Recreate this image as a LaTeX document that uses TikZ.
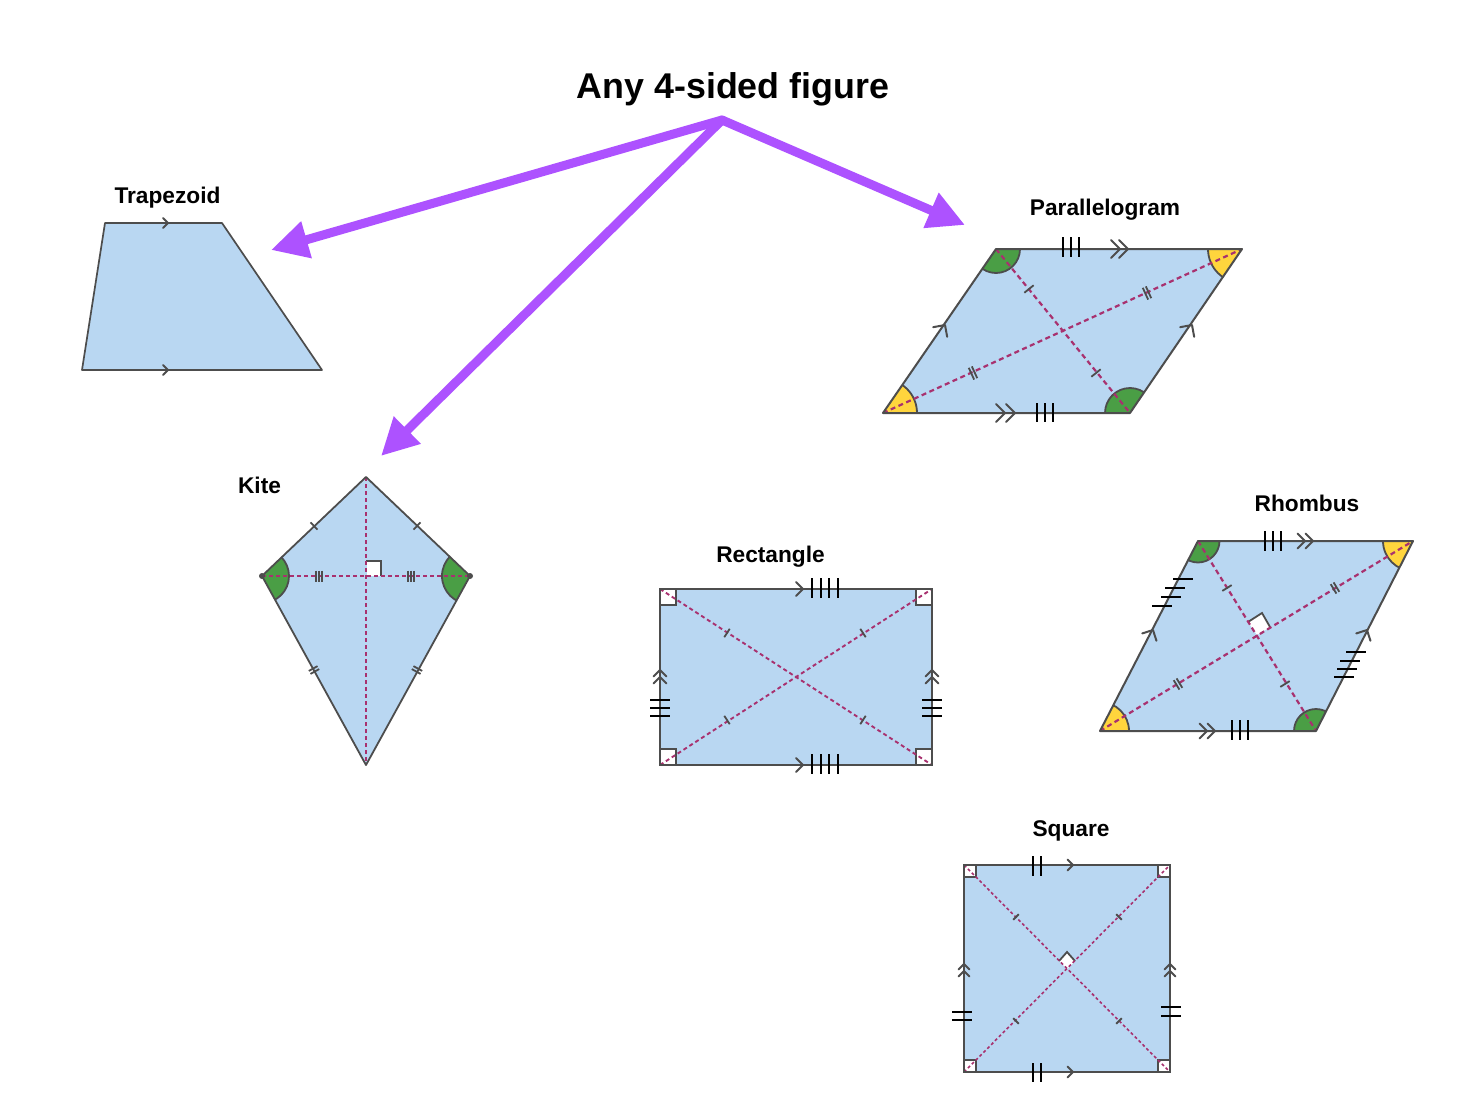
\documentclass[tikz,border=0pt]{standalone}
\usepackage{fontspec}
\setmainfont{Liberation Sans}
\usetikzlibrary{arrows.meta}
\definecolor{shapeblue}{HTML}{B9D7F2}
\definecolor{edgegrey}{HTML}{4D4D4D}
\definecolor{diagpink}{HTML}{A8316F}
\definecolor{anglegreen}{HTML}{4A9E45}
\definecolor{angleyellow}{HTML}{FFD53D}
\definecolor{arrowpurple}{HTML}{AD52FF}
\tikzset{
  quad/.style={draw=edgegrey,line width=2pt,line join=round},
  quadfill/.style={fill=shapeblue},
  diag/.style={draw=diagpink,line width=2.2pt,dash pattern=on 5pt off 3.5pt},
  cornermark/.style={draw=edgegrey,fill=white,line width=1.8pt},
  greenang/.style={draw=edgegrey,fill=anglegreen,line width=1.8pt},
  yellowang/.style={draw=edgegrey,fill=angleyellow,line width=1.8pt},
  bigarrow/.style={draw=arrowpurple,line width=9pt,line cap=round,-{Triangle[length=37pt,width=36pt,fill=arrowpurple]}},
  shapelabel/.style={font=\bfseries\fontsize{22.7}{26}\selectfont,inner sep=0pt,text=black},
  titlelabel/.style={font=\bfseries\fontsize{35.8}{40}\selectfont,inner sep=0pt,text=black},
  blacktick/.style={draw=black,line width=2pt},
  greytick/.style={draw=edgegrey,line width=1.8pt},
  chevron/.style={draw=edgegrey,line width=2pt,line cap=round,line join=round}
}
% tip x, tip y, direction, arm
\newcommand\chev[4]{\draw[chevron,shift={(#1,#2)},rotate=#3] (-#4,-#4)--(0,0)--(-#4,#4);}
% centre x, centre y, direction of the line crossed, length
\newcommand\tickone[4]{\draw[greytick,shift={(#1,#2)},rotate=#3] (0,-#4/2)--(0,#4/2);}
\newcommand\ticktwo[4]{\draw[greytick,shift={(#1,#2)},rotate=#3] (-1.7,-#4/2)--(-1.7,#4/2) (1.7,-#4/2)--(1.7,#4/2);}
\newcommand\tickthree[4]{\draw[greytick,shift={(#1,#2)},rotate=#3] (-3.2,-#4/2)--(-3.2,#4/2) (0,-#4/2)--(0,#4/2) (3.2,-#4/2)--(3.2,#4/2);}
% vertical and horizontal black strokes
\newcommand\vstroke[3]{\draw[blacktick] (#1,#2)--(#1,#3);}
\newcommand\hstroke[3]{\draw[blacktick] (#1,#3)--(#2,#3);}
\begin{document}
\begin{tikzpicture}[x=1pt,y=-1pt]
\useasboundingbox[fill=white] (0,0) rectangle (1476,1116);

% ---------- Trapezoid
\coordinate (ta) at (105,223); \coordinate (tb) at (222,223);
\coordinate (tc) at (322,370); \coordinate (td) at (82,370);
\path[quadfill] (ta)--(tb)--(tc)--(td)--cycle;
\draw[quad,line width=1.7pt] (ta)--(tb)--(tc)--(td)--cycle;
\chev{168}{223}{0}{5}
\chev{168}{370}{0}{5}

% ---------- Parallelogram
\coordinate (pa) at (996,249); \coordinate (pb) at (1242,249);
\coordinate (pc) at (1130,413); \coordinate (pd) at (883,413);
\path[quadfill] (pa)--(pb)--(pc)--(pd)--cycle;
\begin{scope}
\clip (pa)--(pb)--(pc)--(pd)--cycle;
\draw[greenang] (pa) circle[radius=24pt];
\draw[greenang] (pc) circle[radius=25pt];
\draw[yellowang] (pb) circle[radius=34pt];
\draw[yellowang] (pd) circle[radius=34pt];
\end{scope}
\draw[diag] (pa)--(pc);
\draw[diag] (pd)--(pb);
\draw[quad] (pa)--(pb)--(pc)--(pd)--cycle;
\tickone{1029}{289}{-51}{12}
\tickone{1096}{373}{-51}{12}
\ticktwo{1147}{293}{24.5}{13}
\ticktwo{973}{373}{24.5}{13}
\chev{945}{325}{55.4}{8.5}
\chev{1192}{325}{55.4}{8.5}
\chev{1120}{249}{0}{9}\chev{1128}{249}{0}{9}
\chev{1005}{413}{0}{9}\chev{1015}{413}{0}{9}
\vstroke{1063}{237}{257}\vstroke{1071}{237}{257}\vstroke{1079}{237}{257}
\vstroke{1037}{403}{422}\vstroke{1045}{403}{422}\vstroke{1053}{403}{422}

% ---------- Kite
\coordinate (ka) at (366,477); \coordinate (kb) at (470,576);
\coordinate (kc) at (366,765); \coordinate (kd) at (262,576);
\path[quadfill] (ka)--(kb)--(kc)--(kd)--cycle;
\begin{scope}
\clip (ka)--(kb)--(kc)--(kd)--cycle;
\draw[greenang] (kb) circle[radius=28pt];
\draw[greenang] (kd) circle[radius=27pt];
\end{scope}
\fill[white] (366.8,561.8) rectangle (380.2,576);
\draw[cornermark,fill=none] (366,561)--(381,561)--(381,576);
\draw[diag,line width=1.8pt,dash pattern=on 4pt off 3pt] (ka)--(kc);
\draw[diag,line width=1.8pt,dash pattern=on 4pt off 3pt] (kd)--(kb);
\draw[quad,line width=1.8pt] (ka)--(kb)--(kc)--(kd)--cycle;
\fill[edgegrey] (kd) circle[radius=3pt];
\fill[edgegrey] (kb) circle[radius=3pt];
\tickone{314}{526}{43.6}{10}
\tickone{417}{526}{-43.6}{10}
\ticktwo{314}{670}{-61}{10}
\ticktwo{417}{670}{61}{10}
\tickthree{319}{576}{0}{11}
\tickthree{411}{576}{0}{11}

% ---------- Rectangle
\coordinate (ra) at (660,589); \coordinate (rb) at (932,589);
\coordinate (rc) at (932,765); \coordinate (rd) at (660,765);
\path[quadfill] (ra)--(rb)--(rc)--(rd)--cycle;
\draw[cornermark] (660,589) rectangle (676,605);
\draw[cornermark] (916,589) rectangle (932,605);
\draw[cornermark] (660,749) rectangle (676,765);
\draw[cornermark] (916,749) rectangle (932,765);
\draw[diag,line width=1.9pt,dash pattern=on 4pt off 3pt] (ra)--(rc);
\draw[diag,line width=1.9pt,dash pattern=on 4pt off 3pt] (rd)--(rb);
\draw[quad] (ra)--(rb)--(rc)--(rd)--cycle;
\tickone{727}{633}{-33}{10}
\tickone{863}{633}{33}{10}
\tickone{727}{720}{33}{10}
\tickone{863}{720}{-33}{10}
\chev{803}{589}{0}{7}
\chev{803}{765}{0}{7}
\chev{660}{670}{90}{6.5}\chev{660}{677}{90}{6.5}
\chev{932}{670}{90}{6.5}\chev{932}{677}{90}{6.5}
\vstroke{812}{578}{598}\vstroke{821}{578}{598}\vstroke{829}{578}{598}\vstroke{838}{578}{598}
\vstroke{812}{754}{774}\vstroke{821}{754}{774}\vstroke{829}{754}{774}\vstroke{838}{754}{774}
\hstroke{650}{670}{700}\hstroke{650}{670}{708}\hstroke{650}{670}{716}
\hstroke{922}{942}{700}\hstroke{922}{942}{708}\hstroke{922}{942}{716}

% ---------- Rhombus
\coordinate (ha) at (1198,541); \coordinate (hb) at (1413,541);
\coordinate (hc) at (1316,731); \coordinate (hd) at (1100,731);
\path[quadfill] (ha)--(hb)--(hc)--(hd)--cycle;
\begin{scope}
\clip (ha)--(hb)--(hc)--(hd)--cycle;
\draw[greenang] (ha) circle[radius=21.5pt];
\draw[greenang] (hc) circle[radius=22pt];
\draw[yellowang] (hb) circle[radius=30pt];
\draw[yellowang] (hd) circle[radius=29pt];
\end{scope}
\fill[white] (1248,622)--(1262,613)--(1270,627)--(1257,635)--cycle;
\draw[cornermark,fill=none] (1248,622)--(1262,613)--(1270,627);
\draw[diag] (ha)--(hc);
\draw[diag] (hd)--(hb);
\draw[quad] (ha)--(hb)--(hc)--(hd)--cycle;
\tickone{1227}{588}{-58.2}{11}
\tickone{1285}{684}{-58.2}{11}
\ticktwo{1335}{588}{31.3}{11}
\ticktwo{1178}{684}{31.3}{11}
\chev{1153}{630}{62.7}{8}
\chev{1367}{630}{62.7}{8}
\chev{1305}{541}{0}{7.5}\chev{1313}{541}{0}{7.5}
\chev{1207}{731}{0}{7.5}\chev{1215}{731}{0}{7.5}
\vstroke{1265}{531}{551}\vstroke{1273}{531}{551}\vstroke{1281}{531}{551}
\vstroke{1232}{720}{740}\vstroke{1240}{720}{740}\vstroke{1248}{720}{740}
\hstroke{1152}{1172}{606}\hstroke{1161}{1181}{597}\hstroke{1165}{1185}{588}\hstroke{1173}{1193}{579}
\hstroke{1346}{1366}{652}\hstroke{1340}{1360}{661}\hstroke{1337}{1357}{669}\hstroke{1334}{1354}{677}

% ---------- Square
\coordinate (sa) at (964,865); \coordinate (sb) at (1170,865);
\coordinate (sc) at (1170,1072); \coordinate (sd) at (964,1072);
\path[quadfill] (sa)--(sb)--(sc)--(sd)--cycle;
\draw[cornermark,line width=1.5pt] (964,865) rectangle (976,877);
\draw[cornermark,line width=1.5pt] (1158,865) rectangle (1170,877);
\draw[cornermark,line width=1.5pt] (964,1060) rectangle (976,1072);
\draw[cornermark,line width=1.5pt] (1158,1060) rectangle (1170,1072);
\fill[white] (1059,961)--(1067,952)--(1075,961)--(1067,969)--cycle;
\draw[cornermark,fill=none] (1059,961)--(1067,952)--(1075,961);
\draw[diag,line width=1.6pt,dash pattern=on 3pt off 2.5pt] (sa)--(sc);
\draw[diag,line width=1.6pt,dash pattern=on 3pt off 2.5pt] (sd)--(sb);
\draw[quad,line width=1.9pt] (sa)--(sb)--(sc)--(sd)--cycle;
\tickone{1016}{917}{-45}{8}
\tickone{1119}{917}{45}{8}
\tickone{1016}{1021}{45}{8}
\tickone{1119}{1021}{-45}{8}
\chev{1073}{865}{0}{5.5}
\chev{1073}{1072}{0}{5.5}
\chev{964}{964}{90}{5.5}\chev{964}{971}{90}{5.5}
\chev{1170}{964}{90}{5.5}\chev{1170}{971}{90}{5.5}
\vstroke{1033}{856}{876}\vstroke{1041}{856}{876}
\vstroke{1033}{1063}{1082}\vstroke{1041}{1063}{1082}
\hstroke{952}{972}{1012}\hstroke{952}{972}{1020}
\hstroke{1161}{1181}{1007}\hstroke{1161}{1181}{1016}

% ---------- Labels
\node[titlelabel] (title) at (733,89) {Any 4-sided figure};
\node[shapelabel] (ltrap) at (167.5,198) {Trapezoid};
\node[shapelabel] (lpara) at (1105,210) {Parallelogram};
\node[shapelabel] (lkite) at (259.5,485) {Kite};
\node[shapelabel] (lrect) at (770.5,557) {Rectangle};
\node[shapelabel] (lrhom) at (1307,503) {Rhombus};
\node[shapelabel] (lsqua) at (1071,831) {Square};

% ---------- Arrows
\coordinate (apex) at (722,120);
\coordinate (endtrap) at (271,250);
\coordinate (endkite) at (381,456);
\coordinate (endpara) at (965,225);
\draw[bigarrow] (apex)--(endtrap);
\draw[bigarrow] (apex)--(endkite);
\draw[bigarrow] (apex)--(endpara);
\end{tikzpicture}
\end{document}
